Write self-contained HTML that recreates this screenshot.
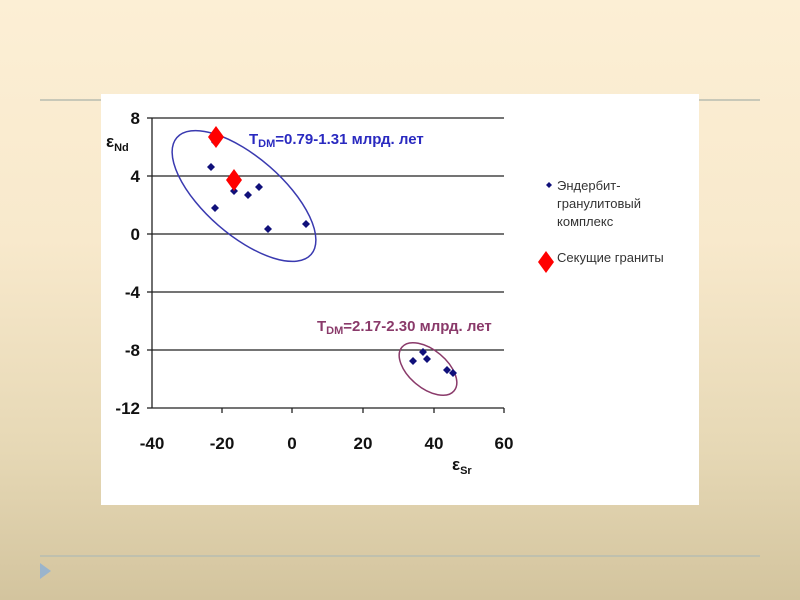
<!DOCTYPE html>
<html><head><meta charset="utf-8"><style>
html,body{margin:0;padding:0;}
body{width:800px;height:600px;overflow:hidden;position:relative;
background:linear-gradient(to bottom,#fcefd5 0%,#f8e9cc 40%,#e6d8b5 75%,#d3c49e 100%);
font-family:"Liberation Sans",sans-serif;}
</style></head><body>
<div style="position:absolute;left:40px;top:99px;width:720px;height:2px;background:#c8c8b8"></div>
<div style="position:absolute;left:40px;top:555px;width:720px;height:2px;background:#bfc0ae"></div>
<svg style="position:absolute;left:40px;top:563px" width="12" height="16"><polygon points="0,0 11,8 0,16" fill="#9ab4cc"/></svg>
<svg style="position:absolute;left:0;top:0" width="800" height="600" xmlns="http://www.w3.org/2000/svg">
<rect x="101" y="94" width="598" height="411" fill="#fff"/>
<g stroke="#222" stroke-width="1.3">
<line x1="152" y1="118" x2="504" y2="118"/>
<line x1="152" y1="176" x2="504" y2="176"/>
<line x1="152" y1="234" x2="504" y2="234"/>
<line x1="152" y1="292" x2="504" y2="292"/>
<line x1="152" y1="350" x2="504" y2="350"/>
<line x1="152" y1="408" x2="504" y2="408"/>
<line x1="152" y1="118" x2="152" y2="408"/>
<line x1="147" y1="118" x2="152" y2="118"/><line x1="147" y1="176" x2="152" y2="176"/>
<line x1="147" y1="234" x2="152" y2="234"/><line x1="147" y1="292" x2="152" y2="292"/>
<line x1="147" y1="350" x2="152" y2="350"/><line x1="147" y1="408" x2="152" y2="408"/>
<line x1="222" y1="408" x2="222" y2="413"/><line x1="292" y1="408" x2="292" y2="413"/>
<line x1="363" y1="408" x2="363" y2="413"/><line x1="434" y1="408" x2="434" y2="413"/>
<line x1="504" y1="408" x2="504" y2="413"/>
</g>
<g font-size="17" font-weight="bold" fill="#111" text-anchor="end">
<text x="140" y="124">8</text><text x="140" y="182">4</text><text x="140" y="240">0</text>
<text x="140" y="298">-4</text><text x="140" y="356">-8</text><text x="140" y="414">-12</text>
</g>
<g font-size="17" font-weight="bold" fill="#111" text-anchor="middle">
<text x="152" y="449">-40</text><text x="222" y="449">-20</text><text x="292" y="449">0</text>
<text x="363" y="449">20</text><text x="434" y="449">40</text><text x="504" y="449">60</text>
</g>
<text x="106" y="147" font-size="17" font-weight="bold" fill="#111">ε<tspan font-size="11" dy="4">Nd</tspan></text>
<text x="452" y="470" font-size="17" font-weight="bold" fill="#111">ε<tspan font-size="11" dy="4">Sr</tspan></text>
<ellipse cx="244" cy="196" rx="89" ry="39" transform="rotate(41 244 196)" fill="none" stroke="#3a3ab0" stroke-width="1.5"/>
<ellipse cx="428" cy="369" rx="34" ry="19" transform="rotate(40 428 369)" fill="none" stroke="#8a3a6a" stroke-width="1.5"/>
<text x="249" y="144" font-size="15" font-weight="bold" fill="#2a2ac0">T<tspan font-size="11" dy="3">DM</tspan><tspan dy="-3">=0.79-1.31 млрд. лет</tspan></text>
<text x="317" y="331" font-size="15" font-weight="bold" fill="#8a3a6a">T<tspan font-size="11" dy="3">DM</tspan><tspan dy="-3">=2.17-2.30 млрд. лет</tspan></text>
<g fill="#10107a">
<path d="M215 138l4 4-4 4-4-4z"/><path d="M211 163l4 4-4 4-4-4z"/><path d="M215 204l4 4-4 4-4-4z"/>
<path d="M234 187l4 4-4 4-4-4z"/><path d="M248 191l4 4-4 4-4-4z"/><path d="M259 183l4 4-4 4-4-4z"/>
<path d="M268 225l4 4-4 4-4-4z"/><path d="M306 220l4 4-4 4-4-4z"/>
<path d="M413 357l4 4-4 4-4-4z"/><path d="M423 348l4 4-4 4-4-4z"/><path d="M427 355l4 4-4 4-4-4z"/>
<path d="M447 366l4 4-4 4-4-4z"/><path d="M453 369l4 4-4 4-4-4z"/>
<path d="M549 182l3 3-3 3-3-3z"/>
</g>
<g fill="#f00">
<path d="M216 126l8 11-8 11-8-11z"/><path d="M234 169l8 11-8 11-8-11z"/>
<path d="M546 251l8 11-8 11-8-11z"/>
</g>
<g font-size="13" fill="#333">
<text x="557" y="190">Эндербит-</text>
<text x="557" y="208">гранулитовый</text>
<text x="557" y="226">комплекс</text>
<text x="557" y="262">Секущие граниты</text>
</g>
</svg>
</body></html>
